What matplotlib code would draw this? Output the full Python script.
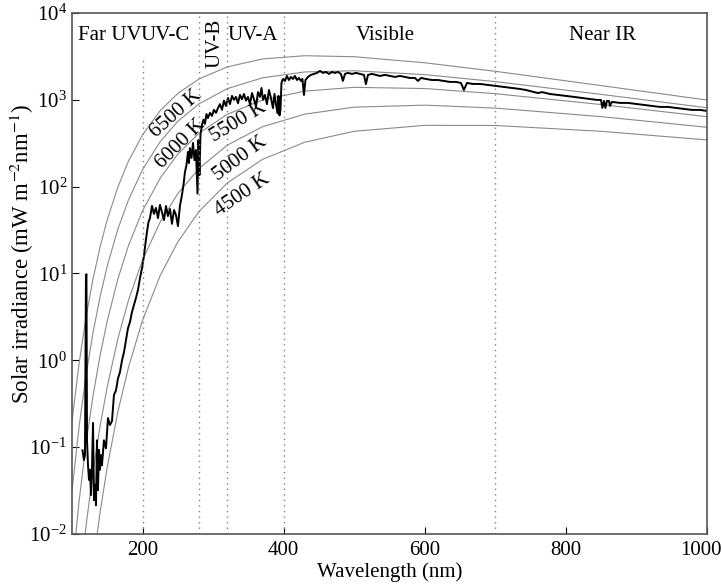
import matplotlib
matplotlib.use("Agg")
import matplotlib.pyplot as plt
from matplotlib.ticker import NullLocator
from matplotlib.transforms import ScaledTranslation

plt.rcParams['font.family'] = ['Liberation Serif', 'DejaVu Serif']
plt.rcParams['mathtext.fontset'] = 'stix'

# blackbody reference curves (mW m-2 nm-1)
bb_wl = [100, 110, 120, 130, 140, 150, 165, 180, 200, 225, 250, 280, 320, 370, 430, 500, 600, 700, 850, 1000]
bb_6500 = [0.197, 0.916, 3.17, 8.79, 20.5, 41.6, 98.8, 196, 395, 750, 1184, 1736, 2393, 2953, 3220, 3134, 2670, 2130, 1458, 994]
bb_6000 = [0.0312, 0.171, 0.682, 2.13, 5.48, 12.2, 32.3, 70.2, 157, 330, 566, 898, 1344, 1792, 2094, 2160, 1950, 1620, 1155, 810]
bb_5500 = [0.00353, 0.0236, 0.111, 0.398, 1.16, 2.84, 8.62, 20.9, 52.8, 125, 237, 412, 680, 994, 1259, 1392, 1348, 1176, 882, 639]
bb_5000 = [0.000258, 0.00219, 0.0125, 0.0531, 0.178, 0.497, 1.77, 4.89, 14.3, 39.2, 83.1, 162, 300, 490, 684, 823, 868, 803, 640, 483]
bb_4500 = [0.0000105, 0.00012, 0.00087, 0.00454, 0.0182, 0.059, 0.254, 0.827, 2.89, 9.46, 23.1, 51.7, 110, 206, 325, 434, 508, 506, 434, 345]
bb_curves = [bb_6500, bb_6000, bb_5500, bb_5000, bb_4500]
bb_names = ['6500 K', '6000 K', '5500 K', '5000 K', '4500 K']

# measured solar spectrum
solar_wl = [114.9, 117.0, 118.4, 119.8, 120.5, 121.3, 122.7, 124.1, 125.5, 126.9, 128.3, 129.8, 131.2, 132.6,
            134.0, 135.4, 136.8, 138.3, 139.7, 141.1, 142.5, 145.3, 148.2, 151.0, 153.8, 156.7, 159.5, 162.4,
            165.2, 168.0, 170.9, 173.7, 176.5, 179.4, 182.2, 185.0, 187.9, 190.7, 193.5, 196.4, 199.2, 202.0,
            204.2, 206.3, 208.4, 210.5, 213.4, 216.2, 219.0, 221.9, 224.7, 227.5, 230.4, 233.2, 236.0, 238.9,
            241.7, 244.6, 247.4, 250.2, 253.0, 255.9, 258.0, 260.1, 262.3, 264.4, 265.8, 267.2, 269.4, 271.5,
            273.6, 275.7, 277.9, 279.3, 280.7, 282.1, 284.2, 286.4, 288.5, 290.6, 292.7, 295.6, 298.4, 301.2,
            304.1, 306.9, 309.7, 312.6, 315.4, 318.2, 321.1, 323.9, 326.8, 329.6, 332.4, 335.3, 338.1, 340.9,
            343.8, 346.6, 349.4, 352.3, 355.1, 357.9, 360.8, 363.6, 366.4, 368.6, 370.7, 373.5, 376.3, 379.2,
            382.0, 384.9, 387.0, 389.1, 391.2, 392.7, 394.1, 395.5, 396.9, 399.0, 401.9, 404.7, 407.5, 410.4,
            413.2, 416.0, 418.8, 421.7, 424.5, 426.6, 428.8, 430.9, 434.5, 438.7, 443.0, 447.2, 451.5, 455.7,
            460.0, 464.2, 468.5, 472.7, 477.0, 481.2, 484.0, 486.9, 491.1, 496.8, 502.5, 508.1, 513.8, 516.6,
            519.5, 525.2, 530.8, 536.5, 543.6, 550.7, 557.8, 564.8, 571.9, 579.0, 586.1, 590.4, 594.6, 601.7,
            610.2, 618.7, 627.2, 635.7, 644.2, 651.3, 655.5, 659.8, 668.3, 678.2, 689.6, 700.9, 712.2, 723.6,
            734.9, 743.4, 754.7, 760.4, 766.1, 777.4, 788.8, 800.1, 811.4, 822.8, 834.1, 844.0, 849.7, 851.8,
            854.0, 856.1, 858.2, 861.1, 862.4, 865.3, 876.6, 887.9, 899.3, 910.6, 921.9, 933.3, 944.6, 955.9,
            967.3, 978.6, 989.9, 999.8]
solar_irr = [0.092, 0.071, 0.081, 9.3, 9.8, 0.12, 0.062, 0.042, 0.055, 0.028, 0.055, 0.19, 0.0245, 0.037,
             0.0214, 0.12, 0.032, 0.093, 0.055, 0.081, 0.062, 0.12, 0.097, 0.216, 0.18, 0.20, 0.40, 0.45,
             0.62, 0.73, 1.0, 1.24, 1.70, 2.35, 2.76, 3.59, 4.33, 5.24, 6.45, 8.88, 11.5, 15.9,
             22.4, 30.1, 39.0, 43.4, 60, 48.6, 56.9, 43.4, 61.7, 51, 41.2, 60, 45.8, 55.3,
             37.3, 53.7, 47, 35.1, 60, 80.4, 104.7, 147, 177, 251, 187, 278, 214, 318,
             202, 264, 83, 345, 136, 395, 515, 592, 528, 686, 617, 707, 653, 767,
             707, 803, 892, 767, 978, 851, 1050, 892, 1109, 1000, 1080, 914, 1138, 1015,
             1167, 978, 1080, 892, 1196, 1015, 834, 1227, 1080, 1368, 1000, 1138, 892, 1297,
             1050, 803, 1167, 892, 703, 1109, 661, 767, 1563, 1738, 1649, 1883, 1690, 1834,
             1738, 1883, 1690, 1785, 1649, 1738, 1138, 1690, 1834, 1936, 1987, 2040, 2152, 2040,
             2094, 1987, 2094, 2040, 2094, 1987, 1649, 1987, 2040, 1987, 2040, 1987, 1936, 1513,
             1936, 1987, 1936, 1883, 1936, 1883, 1834, 1883, 1834, 1785, 1785, 1649, 1785, 1738,
             1690, 1690, 1649, 1607, 1607, 1563, 1297, 1563, 1523, 1523, 1483, 1443, 1406, 1368,
             1333, 1297, 1227, 1196, 1227, 1167, 1138, 1107, 1080, 1050, 1023, 997, 997, 807,
             971, 807, 971, 971, 851, 946, 921, 921, 897, 874, 851, 828, 828, 807,
             785, 765, 765, 745]

# band boundaries and names
band_edges = [200, 280, 320, 400, 700]
band_names = ['Far UV', 'UV-C', 'UV-A', 'Visible', 'Near IR']
band_pos = [153, 232, 356, 544, 852]

# label placement for the blackbody curves
bb_lab_x = [247, 254, 336, 338, 342]
bb_lab_y = [686, 310, 555, 208, 80]
bb_lab_rot = [42, 45, 31, 37, 34]

fig = plt.figure(figsize=(7.22, 5.87), dpi=100)
ax = fig.add_axes([0.0997, 0.0903, 0.8795, 0.8876])

for vals in bb_curves:
    ax.plot(bb_wl, vals, color='#8a8a8a', lw=0.8)
ax.plot(solar_wl, solar_irr, color='black', lw=1.4)

for e in band_edges:
    top = 0.915 if e == 200 else 1.0
    ax.axvline(e, ymax=top, color='#808080', lw=1.0, ls=(0, (1, 3)))

ax.set_yscale('log')
ax.set_xlim(100, 1000)
ax.set_ylim(1e-2, 1e4)
ax.set_xticks([200, 400, 600, 800, 1000])
ax.yaxis.set_minor_locator(NullLocator())
ax.tick_params(direction='in', length=5, labelsize=15, top=False, right=False)
ax.tick_params(axis='x', pad=5)
for s in ax.spines.values():
    s.set_color('#555555')
    s.set_linewidth(1.2)

# keep the last x tick label inside the figure
last = ax.get_xticklabels()[-1]
last.set_transform(last.get_transform() + ScaledTranslation(-6 / 100, 0, fig.dpi_scale_trans))

for name, xp in zip(band_names, band_pos):
    ax.text(xp, 0.956, name, transform=ax.get_xaxis_transform(), ha='center', va='center', fontsize=15)
ax.text(303, 0.942, 'UV-B', transform=ax.get_xaxis_transform(), ha='center', va='center',
        rotation=90, fontsize=15)

for name, xp, yp, r in zip(bb_names, bb_lab_x, bb_lab_y, bb_lab_rot):
    ax.text(xp, yp, name, ha='center', va='center', rotation=r, rotation_mode='anchor', fontsize=15)

ax.set_xlabel('Wavelength (nm)', fontsize=15, labelpad=2)
ax.set_ylabel('Solar irradiance (mW m$^{-2}$nm$^{-1}$)', fontsize=16.5)
ax.yaxis.set_label_coords(-0.056, 0.537)

fig.savefig('out.png', dpi=100)
